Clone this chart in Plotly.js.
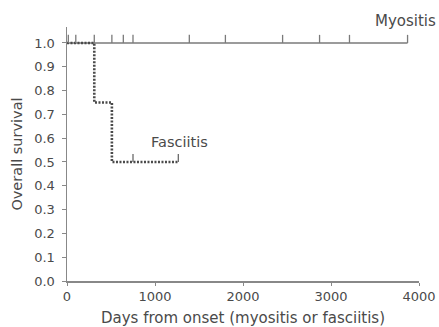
<!DOCTYPE html>
<html>
<head>
<meta charset="utf-8">
<script src="https://cdn.plot.ly/plotly-3.0.1.min.js"></script>
<style>html,body{margin:0;padding:0;background:#fff}#chart{width:439px;height:327px}</style>
</head>
<body>
<div id="chart"></div>
<script>
// Myositis: no deaths, survival stays at 1.0
const myoTimes = [0, 3870];
const myoSurv = [1.0, 1.0];
const myoCensorTimes = [15, 100, 310, 510, 640, 750, 1390, 1800, 2450, 2870, 3210, 3870];
const myoCensorSurv = [1, 1, 1, 1, 1, 1, 1, 1, 1, 1, 1, 1];

// Fasciitis: step function
const fasTimes = [0, 310, 510, 1265];
const fasSurv = [1.0, 0.75, 0.5, 0.5];
const fasCensorTimes = [750, 1265];
const fasCensorSurv = [0.5, 0.5];

const xTickVals = [0, 1000, 2000, 3000, 4000];
const xTickText = ['0', '1000', '2000', '3000', '4000'];
const yTickVals = [0, 0.1, 0.2, 0.3, 0.4, 0.5, 0.6, 0.7, 0.8, 0.9, 1.0];
const yTickText = ['0.0', '0.1', '0.2', '0.3', '0.4', '0.5', '0.6', '0.7', '0.8', '0.9', '1.0'];

const tickUp = n => new Array(n).fill(0.034);
const zeros = n => new Array(n).fill(0);

const traces = [
  {x: myoTimes, y: myoSurv, mode: 'lines', line: {color: '#7a7a7a', width: 1.6}, hoverinfo: 'skip'},
  {x: fasTimes, y: fasSurv, mode: 'lines', line: {color: '#4a4a4a', width: 2.6, shape: 'hv', dash: '2px,1.5px'}, hoverinfo: 'skip'},
  {x: myoCensorTimes, y: myoCensorSurv, mode: 'markers', marker: {size: 1, opacity: 0},
   error_y: {type: 'data', symmetric: false, array: tickUp(myoCensorTimes.length), arrayminus: zeros(myoCensorTimes.length), width: 0, thickness: 1.3, color: '#7a7a7a'}, hoverinfo: 'skip'},
  {x: fasCensorTimes, y: fasCensorSurv, mode: 'markers', marker: {size: 1, opacity: 0},
   error_y: {type: 'data', symmetric: false, array: tickUp(fasCensorTimes.length), arrayminus: zeros(fasCensorTimes.length), width: 0, thickness: 1.3, color: '#6a6a6a'}, hoverinfo: 'skip'}
];

const FAM = 'DejaVu Sans, Verdana, sans-serif';
const TXT = '#4a4a4a';

const layout = {
  width: 439, height: 327,
  margin: {l: 67, r: 20, t: 27, b: 46},
  paper_bgcolor: '#fff', plot_bgcolor: '#fff',
  showlegend: false,
  font: {family: FAM, size: 13, color: TXT},
  xaxis: {
    range: [0, 4000], tickvals: xTickVals, ticktext: xTickText,
    showgrid: false, zeroline: false, showline: true, linecolor: '#888', linewidth: 1.5,
    ticks: 'outside', ticklen: 3, tickcolor: '#888', tickwidth: 1,
    tickfont: {family: FAM, size: 13, color: TXT},
    title: {text: 'Days from onset (myositis or fasciitis)', font: {family: FAM, size: 15, color: TXT}, standoff: 9}
  },
  yaxis: {
    range: [0, 1.067], tickvals: yTickVals, ticktext: yTickText,
    showgrid: false, zeroline: false, showline: true, linecolor: '#888', linewidth: 1.5,
    ticks: 'outside', ticklen: 4, tickcolor: '#888', tickwidth: 1,
    ticklabelstandoff: 4,
    tickfont: {family: FAM, size: 13, color: TXT},
    title: {text: 'Overall survival', font: {family: FAM, size: 14.5, color: TXT}, standoff: 8}
  },
  annotations: [
    {text: 'Myositis', xref: 'paper', yref: 'paper', x: 1.054, y: 1.024, xanchor: 'right', yanchor: 'middle', showarrow: false, font: {family: FAM, size: 15, color: TXT}},
    {text: 'Fasciitis', xref: 'x', yref: 'y', x: 930, y: 0.585, xanchor: 'left', yanchor: 'middle', showarrow: false, font: {family: FAM, size: 14.5, color: TXT}}
  ]
};

Plotly.newPlot('chart', traces, layout, {staticPlot: true, displayModeBar: false});
</script>
</body>
</html>
